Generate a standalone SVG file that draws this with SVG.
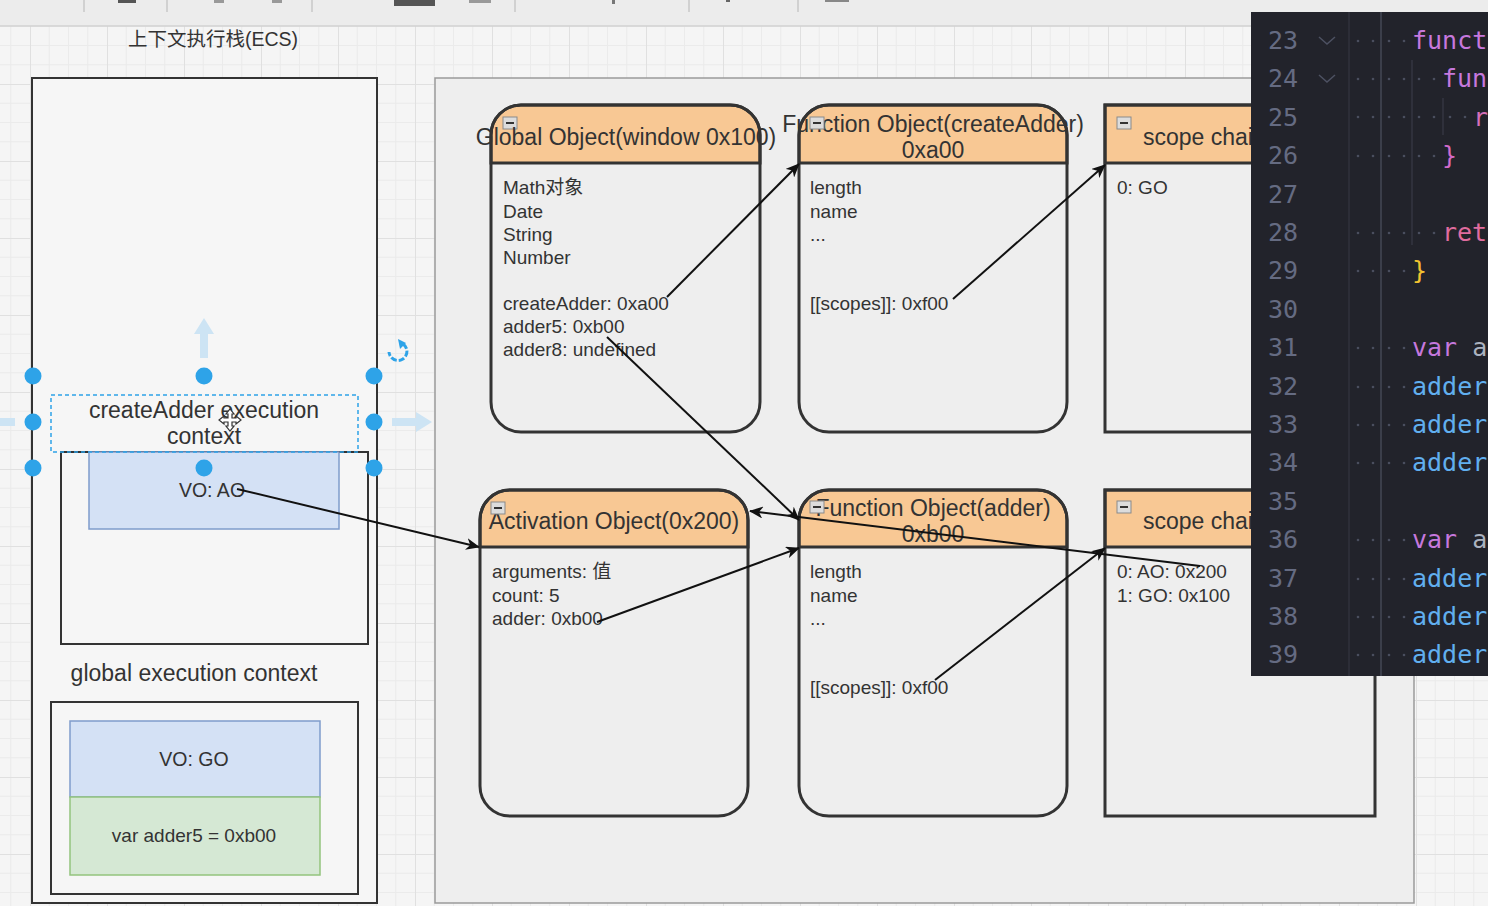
<svg xmlns="http://www.w3.org/2000/svg" width="1488" height="906" viewBox="0 0 1488 906">
<defs>
<pattern id="grid" x="30" y="7" width="77" height="77" patternUnits="userSpaceOnUse">
<rect width="77" height="77" fill="#f5f5f5"/>
<path d="M19.25,0V77M38.5,0V77M57.75,0V77M0,19.25H77M0,38.5H77M0,57.75H77" stroke="#ebebeb" stroke-width="1" fill="none"/>
<path d="M0.5,0V77M0,0.5H77" stroke="#e0e0e0" stroke-width="1" fill="none"/>
</pattern>
<marker id="arr" markerUnits="userSpaceOnUse" markerWidth="14" markerHeight="12" refX="13" refY="6" orient="auto">
<path d="M0,0 L14,6 L0,12 L4,6 Z" fill="#111"/>
</marker>
<g id="collapse">
<rect x="-7" y="-6" width="14" height="12" fill="#dcdcdc" stroke="#8a8a8a" stroke-width="1"/>
<line x1="-4" y1="0" x2="4" y2="0" stroke="#333" stroke-width="2"/>
</g>
</defs>
<style>
.t{font-family:"Liberation Sans",Arial,"Noto Sans CJK SC",sans-serif;fill:#333}
.h{font-size:23px;text-anchor:middle}
.b{font-size:19px}
.hdr{fill:#f8c894;stroke:#333;stroke-width:3}
.box{fill:none;stroke:#333;stroke-width:3}
.ln{stroke:#111;stroke-width:2;fill:none}
.handle{fill:#2ea3e8}
.num{font-family:"DejaVu Sans Mono","Liberation Mono",monospace;font-size:25px;fill:#656b82}
.code{font-family:"DejaVu Sans Mono","Liberation Mono",monospace;font-size:25px}
.dot{fill:#4a4e5e}
</style>

<!-- canvas -->
<rect x="0" y="0" width="1488" height="906" fill="url(#grid)"/>
<!-- toolbar -->
<g id="toolbar">
<rect x="0" y="0" width="1488" height="26" fill="#ececec"/>
<line x1="0" y1="26" x2="1488" y2="26" stroke="#d2d2d2" stroke-width="1.5"/>
<g stroke="#c8c8c8" stroke-width="1.5">
<line x1="84" y1="0" x2="84" y2="12"/><line x1="167" y1="0" x2="167" y2="12"/><line x1="312" y1="0" x2="312" y2="12"/>
<line x1="515" y1="0" x2="515" y2="12"/><line x1="689" y1="0" x2="689" y2="12"/><line x1="798" y1="0" x2="798" y2="12"/>
</g>
<g fill="#555">
<rect x="118" y="0" width="18" height="3"/>
<rect x="394" y="0" width="41" height="6"/>
<rect x="214" y="0" width="10" height="3" fill="#999"/>
<rect x="272" y="0" width="10" height="3" fill="#999"/>
<rect x="469" y="0" width="22" height="3" fill="#999"/>
<rect x="612" y="0" width="3" height="4" fill="#777"/>
<rect x="726" y="0" width="4" height="2" fill="#666"/>
<rect x="825" y="0" width="24" height="2" fill="#888"/>
</g>
</g>

<!-- left ECS container -->
<g id="ecs">
<text class="t" x="213" y="46" font-size="19.5" text-anchor="middle">上下文执行栈(ECS)</text>
<rect x="32" y="78" width="345" height="825" fill="#f6f6f6" stroke="#333" stroke-width="2"/>
</g>

<g id="createAdder-ec">
<rect x="61" y="452" width="307" height="192" fill="#f6f6f6" stroke="#333" stroke-width="2"/>
<rect x="89" y="452" width="250" height="77" fill="#d4e1f5" stroke="#7f9ccb" stroke-width="1.5"/>
<text class="t" x="212" y="497" font-size="19.5" text-anchor="middle">VO: AO</text>
<rect x="51" y="395" width="307" height="57" fill="none" stroke="#2ea3e8" stroke-width="1.5" stroke-dasharray="4,3"/>
<text class="t h" x="204" y="418">createAdder execution</text>
<text class="t h" x="204" y="444">context</text>
</g>

<g id="selection">
<path d="M204,318 L214,334 L208,334 L208,358 L200,358 L200,334 L194,334 Z" fill="#cde4f4"/>
<path d="M432,422 L416,412 L416,418 L392,418 L392,426 L416,426 L416,432 Z" fill="#cde4f4"/>
<rect x="0" y="418" width="15" height="8" fill="#cde4f4"/>
<circle class="handle" cx="33" cy="376" r="8.5"/><circle class="handle" cx="204" cy="376" r="8.5"/><circle class="handle" cx="374" cy="376" r="8.5"/>
<circle class="handle" cx="33" cy="422" r="8.5"/><circle class="handle" cx="374" cy="422" r="8.5"/>
<circle class="handle" cx="33" cy="468" r="8.5"/><circle class="handle" cx="204" cy="468" r="8.5"/><circle class="handle" cx="374" cy="468" r="8.5"/>
<path d="M403,344 A9,9 0 1 1 389,352" fill="none" stroke="#2ea3e8" stroke-width="3" stroke-dasharray="6,2"/>
<path d="M398,339 L406,343 L400,349 Z" fill="#2ea3e8"/>
<g transform="translate(230,420)" stroke="#333" stroke-width="1.2" fill="#fff">
<path d="M0,-11 L4,-6 L2,-6 L2,-2 L6,-2 L6,-4 L11,0 L6,4 L6,2 L2,2 L2,6 L4,6 L0,11 L-4,6 L-2,6 L-2,2 L-6,2 L-6,4 L-11,0 L-6,-4 L-6,-2 L-2,-2 L-2,-6 L-4,-6 Z"/>
</g>
</g>

<g id="global-ec">
<text class="t h" x="194" y="681">global execution context</text>
<rect x="51" y="702" width="307" height="192" fill="#f6f6f6" stroke="#333" stroke-width="2"/>
<rect x="70" y="721" width="250" height="76" fill="#d4e1f5" stroke="#7f9ccb" stroke-width="1.5"/>
<text class="t" x="194" y="766" font-size="19.5" text-anchor="middle">VO: GO</text>
<rect x="70" y="797" width="250" height="78" fill="#d5e8d4" stroke="#93c47d" stroke-width="1.5"/>
<text class="t" x="194" y="842" font-size="19" text-anchor="middle">var adder5 = 0xb00</text>
</g>

<!-- right heap container -->
<g id="heap">
<rect x="435" y="78" width="979" height="825" fill="#eeeeee" stroke="#9a9a9a" stroke-width="1.5"/>
</g>

<g id="global-object">
<path class="hdr" d="M491,163 V135 A30,30 0 0 1 521,105 H730 A30,30 0 0 1 760,135 V163 Z"/>
<rect class="box" x="491" y="105" width="269" height="327" rx="30"/>
<use href="#collapse" x="510" y="123"/>
<text class="t h" x="626" y="145">Global Object(window 0x100)</text>
<text class="t b" x="503" y="194">Math对象</text>
<text class="t b" x="503" y="218">Date</text>
<text class="t b" x="503" y="241">String</text>
<text class="t b" x="503" y="264">Number</text>
<text class="t b" x="503" y="310">createAdder: 0xa00</text>
<text class="t b" x="503" y="333">adder5: 0xb00</text>
<text class="t b" x="503" y="356">adder8: undefined</text>
</g>

<g id="fo-createAdder">
<path class="hdr" d="M799,163 V135 A30,30 0 0 1 829,105 H1037 A30,30 0 0 1 1067,135 V163 Z"/>
<rect class="box" x="799" y="105" width="268" height="327" rx="30"/>
<text class="t h" x="933" y="132">Function Object(createAdder)</text>
<text class="t h" x="933" y="158">0xa00</text>
<use href="#collapse" x="817" y="123"/>
<text class="t b" x="810" y="194">length</text>
<text class="t b" x="810" y="218">name</text>
<text class="t b" x="810" y="241">...</text>
<text class="t b" x="810" y="310">[[scopes]]: 0xf00</text>
</g>

<g id="scope-chain-1">
<rect x="1105" y="105" width="270" height="58" fill="#f8c894" stroke="#333" stroke-width="3"/>
<rect class="box" x="1105" y="105" width="270" height="327"/>
<use href="#collapse" x="1124" y="123"/>
<text class="t" x="1143" y="145" font-size="23">scope chain</text>
<text class="t b" x="1117" y="194">0: GO</text>
</g>

<g id="activation-object">
<path class="hdr" d="M480,547 V520 A30,30 0 0 1 510,490 H718 A30,30 0 0 1 748,520 V547 Z"/>
<rect class="box" x="480" y="490" width="268" height="326" rx="30"/>
<text class="t h" x="614" y="529">Activation Object(0x200)</text>
<use href="#collapse" x="498" y="508"/>
<text class="t b" x="492" y="578">arguments: 值</text>
<text class="t b" x="492" y="602">count: 5</text>
<text class="t b" x="492" y="625">adder: 0xb00</text>
</g>

<g id="fo-adder">
<path class="hdr" d="M799,547 V520 A30,30 0 0 1 829,490 H1037 A30,30 0 0 1 1067,520 V547 Z"/>
<rect class="box" x="799" y="490" width="268" height="326" rx="30"/>
<text class="t h" x="933" y="516">Function Object(adder)</text>
<text class="t h" x="933" y="542">0xb00</text>
<use href="#collapse" x="817" y="507"/>
<text class="t b" x="810" y="578">length</text>
<text class="t b" x="810" y="602">name</text>
<text class="t b" x="810" y="625">...</text>
<text class="t b" x="810" y="694">[[scopes]]: 0xf00</text>
</g>

<g id="scope-chain-2">
<rect x="1105" y="490" width="270" height="57" fill="#f8c894" stroke="#333" stroke-width="3"/>
<rect class="box" x="1105" y="490" width="270" height="326"/>
<use href="#collapse" x="1124" y="507"/>
<text class="t" x="1143" y="529" font-size="23">scope chain</text>
<text class="t b" x="1117" y="578">0: AO: 0x200</text>
<text class="t b" x="1117" y="602">1: GO: 0x100</text>
</g>

<g id="connectors">
<line class="ln" x1="237" y1="489" x2="479" y2="547" marker-end="url(#arr)"/>
<line class="ln" x1="667" y1="297" x2="799" y2="164" marker-end="url(#arr)"/>
<line class="ln" x1="953" y1="299" x2="1105" y2="165" marker-end="url(#arr)"/>
<line class="ln" x1="607" y1="337" x2="799" y2="520" marker-end="url(#arr)"/>
<line class="ln" x1="1200" y1="566" x2="750" y2="511" marker-end="url(#arr)"/>
<line class="ln" x1="597" y1="622" x2="799" y2="548" marker-end="url(#arr)"/>
<line class="ln" x1="935" y1="680" x2="1105" y2="548" marker-end="url(#arr)"/>
</g>

<!-- code editor overlay -->
<g id="code-panel">
<rect x="1251" y="12" width="237" height="664" fill="#22232b"/>
<line x1="1349" y1="12" x2="1349" y2="676" stroke="#30323d" stroke-width="1.5"/>
<line x1="1381" y1="12" x2="1381" y2="676" stroke="#454856" stroke-width="1.5"/>
<line x1="1412" y1="60" x2="1412" y2="245" stroke="#3c3f4c" stroke-width="1"/>
<line x1="1443" y1="98" x2="1443" y2="135" stroke="#3c3f4c" stroke-width="1"/>
<g fill="none" stroke="#4d5162" stroke-width="1.5">
<polyline points="1319,37 1327,44 1335,37"/>
<polyline points="1319,75 1327,82 1335,75"/>
</g>
<g class="num" text-anchor="end">
<text x="1298" y="49">23</text><text x="1298" y="87">24</text><text x="1298" y="126">25</text><text x="1298" y="164">26</text>
<text x="1298" y="203">27</text><text x="1298" y="241">28</text><text x="1298" y="279">29</text><text x="1298" y="318">30</text>
<text x="1298" y="356">31</text><text x="1298" y="395">32</text><text x="1298" y="433">33</text><text x="1298" y="471">34</text>
<text x="1298" y="510">35</text><text x="1298" y="548">36</text><text x="1298" y="587">37</text><text x="1298" y="625">38</text>
<text x="1298" y="663">39</text>
</g>
<g class="dot">
<circle cx="1358" cy="41" r="1.3"/><circle cx="1373" cy="41" r="1.3"/><circle cx="1389" cy="41" r="1.3"/><circle cx="1404" cy="41" r="1.3"/>
<circle cx="1358" cy="79" r="1.3"/><circle cx="1373" cy="79" r="1.3"/><circle cx="1389" cy="79" r="1.3"/><circle cx="1404" cy="79" r="1.3"/><circle cx="1419" cy="79" r="1.3"/><circle cx="1434" cy="79" r="1.3"/>
<circle cx="1358" cy="117" r="1.3"/><circle cx="1373" cy="117" r="1.3"/><circle cx="1389" cy="117" r="1.3"/><circle cx="1404" cy="117" r="1.3"/><circle cx="1419" cy="117" r="1.3"/><circle cx="1434" cy="117" r="1.3"/><circle cx="1450" cy="117" r="1.3"/><circle cx="1465" cy="117" r="1.3"/>
<circle cx="1358" cy="156" r="1.3"/><circle cx="1373" cy="156" r="1.3"/><circle cx="1389" cy="156" r="1.3"/><circle cx="1404" cy="156" r="1.3"/><circle cx="1419" cy="156" r="1.3"/><circle cx="1434" cy="156" r="1.3"/>
<circle cx="1358" cy="233" r="1.3"/><circle cx="1373" cy="233" r="1.3"/><circle cx="1389" cy="233" r="1.3"/><circle cx="1404" cy="233" r="1.3"/><circle cx="1419" cy="233" r="1.3"/><circle cx="1434" cy="233" r="1.3"/>
<circle cx="1358" cy="271" r="1.3"/><circle cx="1373" cy="271" r="1.3"/><circle cx="1389" cy="271" r="1.3"/><circle cx="1404" cy="271" r="1.3"/>
<circle cx="1358" cy="348" r="1.3"/><circle cx="1373" cy="348" r="1.3"/><circle cx="1389" cy="348" r="1.3"/><circle cx="1404" cy="348" r="1.3"/>
<circle cx="1358" cy="387" r="1.3"/><circle cx="1373" cy="387" r="1.3"/><circle cx="1389" cy="387" r="1.3"/><circle cx="1404" cy="387" r="1.3"/>
<circle cx="1358" cy="425" r="1.3"/><circle cx="1373" cy="425" r="1.3"/><circle cx="1389" cy="425" r="1.3"/><circle cx="1404" cy="425" r="1.3"/>
<circle cx="1358" cy="463" r="1.3"/><circle cx="1373" cy="463" r="1.3"/><circle cx="1389" cy="463" r="1.3"/><circle cx="1404" cy="463" r="1.3"/>
<circle cx="1358" cy="540" r="1.3"/><circle cx="1373" cy="540" r="1.3"/><circle cx="1389" cy="540" r="1.3"/><circle cx="1404" cy="540" r="1.3"/>
<circle cx="1358" cy="579" r="1.3"/><circle cx="1373" cy="579" r="1.3"/><circle cx="1389" cy="579" r="1.3"/><circle cx="1404" cy="579" r="1.3"/>
<circle cx="1358" cy="617" r="1.3"/><circle cx="1373" cy="617" r="1.3"/><circle cx="1389" cy="617" r="1.3"/><circle cx="1404" cy="617" r="1.3"/>
<circle cx="1358" cy="655" r="1.3"/><circle cx="1373" cy="655" r="1.3"/><circle cx="1389" cy="655" r="1.3"/><circle cx="1404" cy="655" r="1.3"/>
</g>
<g class="code">
<text x="1412" y="49" fill="#c678dd">funct</text>
<text x="1442" y="87" fill="#c678dd">fun</text>
<text x="1473" y="126" fill="#d66fb8">r</text>
<text x="1442" y="164" fill="#d36ac8">}</text>
<text x="1442" y="241" fill="#e06c9f">ret</text>
<text x="1412" y="279" fill="#f2c230">}</text>
<text x="1412" y="356"><tspan fill="#c678dd">var</tspan><tspan fill="#abb2bf"> a</tspan></text>
<text x="1412" y="395" fill="#61afef">adder</text>
<text x="1412" y="433" fill="#61afef">adder</text>
<text x="1412" y="471" fill="#61afef">adder</text>
<text x="1412" y="548"><tspan fill="#c678dd">var</tspan><tspan fill="#abb2bf"> a</tspan></text>
<text x="1412" y="587" fill="#61afef">adder</text>
<text x="1412" y="625" fill="#61afef">adder</text>
<text x="1412" y="663" fill="#61afef">adder</text>
</g>
</g>
</svg>
